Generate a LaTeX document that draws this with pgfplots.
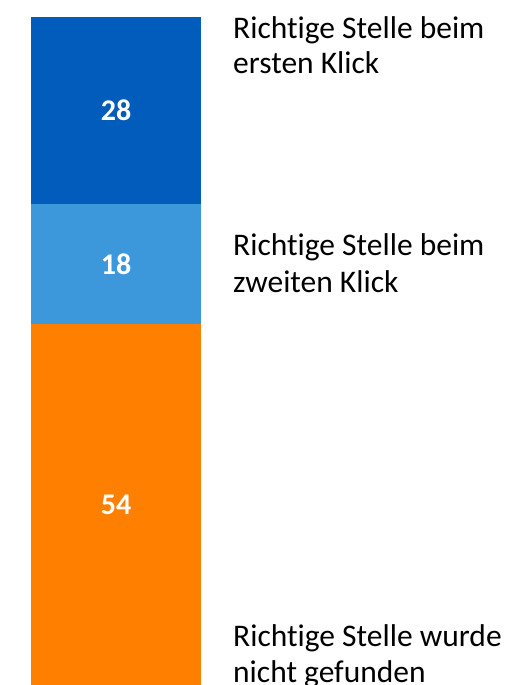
\documentclass[border=0pt]{standalone}
\usepackage{pgfplots}
\pgfplotsset{compat=1.18}
\usepackage{fontspec}
\setmainfont{Carlito}[Ligatures={NoCommon}]
\definecolor{dblue}{HTML}{025CBB}
\definecolor{lblue}{HTML}{3C97DB}
\definecolor{orng}{HTML}{FF7F00}
\begin{document}
\begin{tikzpicture}[x=1pt,y=1pt]
\useasboundingbox (0,0) rectangle (506,685);
\begin{axis}[
  at={(31pt,0pt)}, anchor=south west,
  scale only axis, width=170pt, height=668pt,
  ybar stacked, bar width=170pt,
  xmin=-0.5, xmax=0.5, ymin=0, ymax=100,
  axis lines=none,
]
\addplot[fill=orng, draw=none] coordinates {(0,54)};
\addplot[fill=lblue, draw=none] coordinates {(0,18)};
\addplot[fill=dblue, draw=none] coordinates {(0,28)};
\end{axis}
\begin{scope}[every node/.style={text=white, font=\fontsize{30}{34}\selectfont\bfseries}]
\node at (116,574.5) {28};
\node at (116,420.8) {18};
\node at (116,180.4) {54};
\end{scope}
\begin{scope}[every node/.style={anchor=base west, inner sep=0pt, font=\fontsize{31.5}{36}\selectfont}]
\node at (233,646) {Richtige Stelle beim};
\node at (233,611) {ersten Klick};
\node at (233,429) {Richtige Stelle beim};
\node at (233,392) {zweiten Klick};
\node at (233,38) {Richtige Stelle wurde};
\node at (233,2) {nicht gefunden};
\end{scope}
\end{tikzpicture}
\end{document}
